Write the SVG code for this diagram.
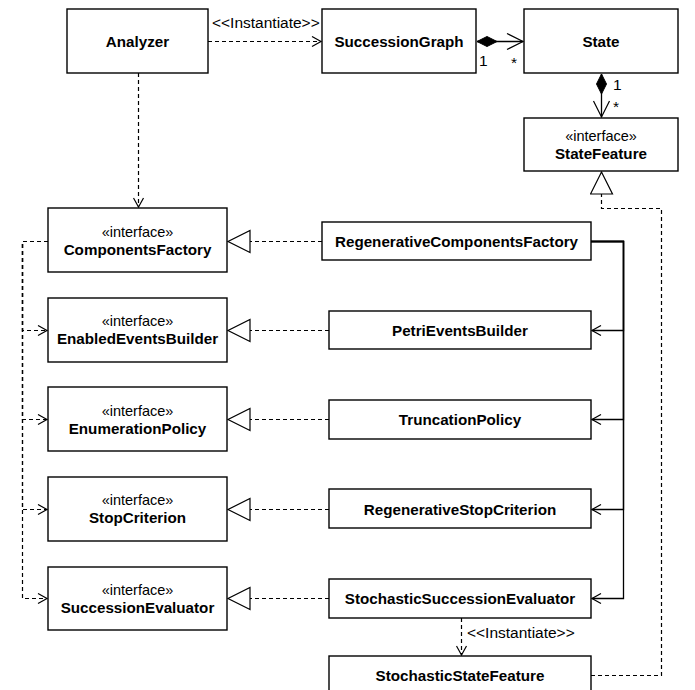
<svg xmlns="http://www.w3.org/2000/svg" width="695" height="690" viewBox="0 0 695 690">
<style>
.box{fill:#fff;stroke:#000;stroke-width:1.4}
.name{font-family:"Liberation Sans",Arial,sans-serif;font-weight:bold;font-size:15.2px;text-anchor:middle}
.st{font-family:"Liberation Sans",Arial,sans-serif;font-size:14.5px;text-anchor:middle}
.lbl{font-family:"Liberation Sans",Arial,sans-serif;font-size:15.5px}
.dash{fill:none;stroke:#000;stroke-width:1.2;stroke-dasharray:4,3}
.solid{fill:none;stroke:#000;stroke-width:1.3}
</style>
<defs>
<marker id="open" markerWidth="12" markerHeight="12" refX="10" refY="6" orient="auto" markerUnits="userSpaceOnUse"><path d="M1,1 L10,6 L1,11" fill="none" stroke="#000" stroke-width="1.2"/></marker>
<marker id="openL" markerWidth="20" markerHeight="20" refX="17" refY="10" orient="auto" markerUnits="userSpaceOnUse"><path d="M1,2 L17,10 L1,18" fill="none" stroke="#000" stroke-width="1.2"/></marker>
<marker id="tri" markerWidth="26" markerHeight="26" refX="23" refY="12" orient="auto" markerUnits="userSpaceOnUse"><path d="M1,1 L23,12 L1,23 Z" fill="#fff" stroke="#000" stroke-width="1.2"/></marker>
<marker id="dia" markerWidth="24" markerHeight="14" refX="1" refY="6" orient="auto" markerUnits="userSpaceOnUse"><path d="M1,6 L11,1 L21,6 L11,11 Z" fill="#000" stroke="#000" stroke-width="1"/></marker>
</defs>

<g id="connectors">
<path class="dash" d="M208,41.5 H321" marker-end="url(#open)"/>
<text class="lbl" x="212" y="28">&lt;&lt;Instantiate&gt;&gt;</text>
<path class="solid" d="M477,41.5 H523" marker-start="url(#dia)" marker-end="url(#openL)"/>
<text class="lbl" x="479" y="66" fill="#000">1</text>
<text class="lbl" x="511" y="68" fill="#000">*</text>
<path class="solid" d="M601.5,74 V117" marker-start="url(#dia)" marker-end="url(#openL)"/>
<text class="lbl" x="613" y="90" fill="#000">1</text>
<text class="lbl" x="613" y="112" fill="#000">*</text>
<path class="dash" d="M138.5,73 V207" marker-end="url(#open)"/>

<path class="dash" d="M322,241.5 H228" marker-end="url(#tri)"/>
<path class="dash" d="M329,330.5 H228" marker-end="url(#tri)"/>
<path class="dash" d="M329,419.5 H228" marker-end="url(#tri)"/>
<path class="dash" d="M329,509.5 H228" marker-end="url(#tri)"/>
<path class="dash" d="M329,598.5 H228" marker-end="url(#tri)"/>

<path class="solid" d="M591,241.5 H623.5 V330.5 H592" marker-end="url(#open)"/>
<path class="solid" d="M591,241.5 H623.5 V419.5 H592" marker-end="url(#open)"/>
<path class="solid" d="M591,241.5 H623.5 V509.5 H592" marker-end="url(#open)"/>
<path class="solid" d="M591,241.5 H623.5 V598.5 H592" marker-end="url(#open)"/>

<path class="dash" d="M48,241.5 H22.5 V330.5 H47" marker-end="url(#open)"/>
<path class="dash" d="M48,241.5 H22.5 V419.5 H47" marker-end="url(#open)"/>
<path class="dash" d="M48,241.5 H22.5 V509.5 H47" marker-end="url(#open)"/>
<path class="dash" d="M48,241.5 H22.5 V598.5 H47" marker-end="url(#open)"/>

<path class="dash" d="M461.5,618 V655" marker-end="url(#open)"/>
<text class="lbl" x="467" y="638">&lt;&lt;Instantiate&gt;&gt;</text>

<path class="dash" d="M591,675.5 H661.5 V208.5 H601.5 V172" marker-end="url(#tri)"/>
</g>

<g id="Analyzer"><rect class="box" x="67" y="9" width="141" height="64"/><text class="name" x="137.5" y="46.5">Analyzer</text></g>
<g id="SuccessionGraph"><rect class="box" x="322" y="9" width="154" height="64"/><text class="name" x="399" y="46.5">SuccessionGraph</text></g>
<g id="State"><rect class="box" x="524" y="9" width="154" height="64"/><text class="name" x="601" y="46.5">State</text></g>
<g id="StateFeature"><rect class="box" x="524" y="118" width="154" height="53"/><text class="st" x="601" y="141">«interface»</text><text class="name" x="601" y="159">StateFeature</text></g>

<g id="ComponentsFactory"><rect class="box" x="48" y="208" width="179" height="64"/><text class="st" x="137.5" y="237">«interface»</text><text class="name" x="137.5" y="255">ComponentsFactory</text></g>
<g id="EnabledEventsBuilder"><rect class="box" x="48" y="298" width="179" height="64"/><text class="st" x="137.5" y="326">«interface»</text><text class="name" x="137.5" y="344">EnabledEventsBuilder</text></g>
<g id="EnumerationPolicy"><rect class="box" x="48" y="387" width="179" height="64"/><text class="st" x="137.5" y="416">«interface»</text><text class="name" x="137.5" y="434">EnumerationPolicy</text></g>
<g id="StopCriterion"><rect class="box" x="48" y="477" width="179" height="64"/><text class="st" x="137.5" y="505">«interface»</text><text class="name" x="137.5" y="523">StopCriterion</text></g>
<g id="SuccessionEvaluator"><rect class="box" x="48" y="567" width="179" height="63"/><text class="st" x="137.5" y="595">«interface»</text><text class="name" x="137.5" y="613">SuccessionEvaluator</text></g>

<g id="RegenerativeComponentsFactory"><rect class="box" x="322" y="222" width="269" height="38"/><text class="name" x="456.5" y="246.5">RegenerativeComponentsFactory</text></g>
<g id="PetriEventsBuilder"><rect class="box" x="329" y="311" width="262" height="38"/><text class="name" x="460" y="335.5">PetriEventsBuilder</text></g>
<g id="TruncationPolicy"><rect class="box" x="329" y="400" width="262" height="39"/><text class="name" x="460" y="424.5">TruncationPolicy</text></g>
<g id="RegenerativeStopCriterion"><rect class="box" x="329" y="489" width="262" height="39"/><text class="name" x="460" y="514.5">RegenerativeStopCriterion</text></g>
<g id="StochasticSuccessionEvaluator"><rect class="box" x="329" y="579" width="262" height="39"/><text class="name" x="460" y="603.5">StochasticSuccessionEvaluator</text></g>
<g id="StochasticStateFeature"><rect class="box" x="329" y="656" width="262" height="40"/><text class="name" x="460" y="680.5">StochasticStateFeature</text></g>
</svg>
